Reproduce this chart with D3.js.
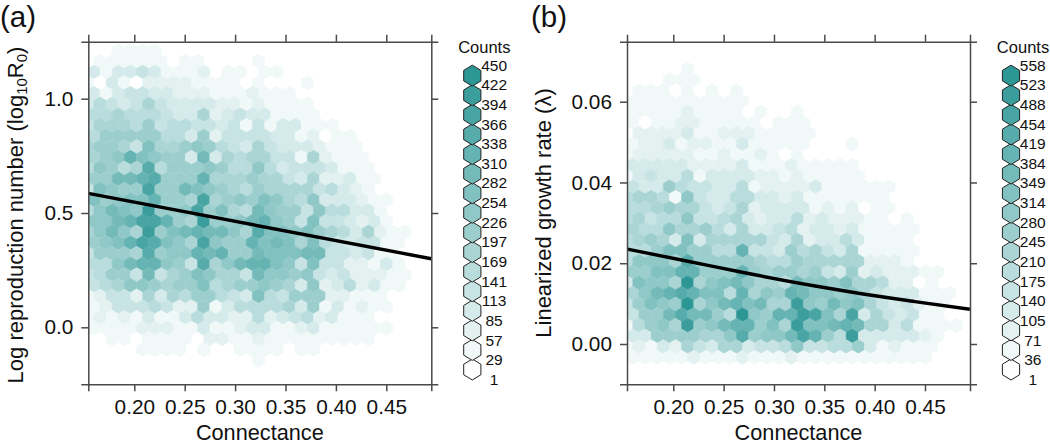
<!DOCTYPE html>
<html>
<head>
<meta charset="utf-8">
<script src="https://cdn.jsdelivr.net/npm/d3@7"></script>
<style>
  html, body { margin: 0; padding: 0; background: #fff; }
  svg { display: block; }
  text { font-family: "Liberation Sans", Arial, sans-serif; fill: #111; }
</style>
</head>
<body>
<svg id="chart" width="1050" height="445"></svg>
<script>
const connectanceTicks = [0.20, 0.25, 0.30, 0.35, 0.40, 0.45];
const logR0Ticks = [0.0, 0.5, 1.0];
const growthTicks = [0.00, 0.02, 0.04, 0.06];

const logR0Legend = [450, 422, 394, 366, 338, 310, 282, 254, 226, 197, 169, 141, 113, 85, 57, 29, 1];
const growthLegend = [558, 523, 488, 454, 419, 384, 349, 314, 280, 245, 210, 175, 140, 105, 71, 36, 1];

// fitted lines
const logR0LineX = [0.1544, 0.4946];
const logR0LineY = [0.586, 0.300];
const growthLineX = [0.1544, 0.2143, 0.2695, 0.3424, 0.3853, 0.4400, 0.4946];
const growthLineY = [0.0235, 0.0205, 0.0177, 0.0143, 0.0125, 0.0105, 0.0086];

// hexagon counts, one list per row of the lattice, top row first (0 = empty cell)
const logR0Counts = [
  [0,0,20,20,25,20],
  [0,20,25,25,25,25,20,0,20,20,0,0,0,0,20],
  [75,20,75,75,110,75,25,25,25,65,0,25,25,0,25,20],
  [20,10,75,30,1,65,50,50,50,40,20,20,20,1,25,1,0,0,20],
  [75,40,75,125,110,90,90,50,55,60,20,20,25,60,20,20,20],
  [100,135,130,100,125,185,105,90,90,90,80,60,60,30,65,30,20,20,20],
  [150,160,175,160,160,155,125,90,100,170,60,90,105,100,75,30,20,20,20],
  [130,170,175,170,150,220,110,150,155,120,110,90,105,30,120,30,75,75,20,20,20],
  [160,200,195,205,195,205,155,135,100,205,60,110,110,120,110,80,75,20,60,1,20,20],
  [170,215,210,190,130,255,165,185,205,225,200,155,125,75,180,125,80,90,90,50,20,20,20],
  [180,205,245,325,265,240,205,195,75,285,75,180,150,165,165,130,125,40,180,55,20,20,20],
  [140,235,200,160,185,360,150,205,200,215,225,195,140,155,230,140,80,110,125,105,90,25,20,20],
  [200,220,300,290,335,350,205,205,200,320,165,175,170,205,185,175,130,90,185,65,65,75,20,20],
  [105,265,250,220,205,380,220,210,285,265,245,195,165,155,220,185,175,175,170,120,160,75,65,30],
  [260,205,250,265,260,325,220,210,185,380,165,205,250,210,275,230,185,140,230,90,75,75,60,25,20],
  [155,240,310,260,230,405,210,210,240,385,210,265,165,155,290,250,220,220,130,230,155,140,90,75,20],
  [230,230,285,340,395,385,340,210,165,405,210,205,240,290,335,230,205,130,260,130,120,75,60,75,20],
  [165,250,290,240,190,430,200,265,310,325,285,300,250,165,360,275,260,240,260,210,165,155,90,165,60,20,20],
  [220,240,260,335,380,360,275,250,180,395,240,220,210,325,265,285,265,185,275,140,120,90,105,105,20,20],
  [120,205,205,220,170,370,220,230,240,325,290,335,205,205,300,275,260,265,290,285,130,120,75,120,30,20],
  [155,140,240,290,325,325,230,220,130,350,165,240,290,335,320,260,250,130,260,120,120,60,60,30,75,20],
  [130,155,195,210,110,310,120,185,205,260,250,175,165,105,300,230,250,210,240,130,90,130,60,60,50,30,20],
  [120,140,165,240,230,205,185,210,205,265,140,175,210,210,240,205,165,75,240,60,90,140,60,100,20,25],
  [30,60,130,130,50,175,75,165,140,205,195,155,105,90,265,140,130,205,220,220,60,60,30,30,25],
  [40,50,105,105,120,140,120,50,55,220,30,90,150,155,155,140,165,75,220,30,90,40,50,20,20],
  [30,60,25,60,30,90,25,30,90,140,75,75,60,60,155,60,75,130,155,50,75,30,25,20,1],
  [20,20,20,25,55,55,50,25,20,75,25,40,55,75,75,30,30,55,75,20,20,20,20,20,20],
  [0,0,20,20,0,25,25,25,25,0,50,50,20,20,50,30,30,30,25,30,20,20,20,20],
  [0,0,0,0,25,25,25,25,0,25,0,0,25,30,20,20,0,20,20],
  [0,0,0,0,0,0,0,0,0,0,0,0,0,0,20]
];

const growthCounts = [
  [0,0,0,0,0,20],
  [0,0,0,20,20,20],
  [0,20,20,20,1,20,1,20,1,20],
  [20,20,20,20,20,20,20,20,20,20],
  [20,20,20,20,20,65,25,20,20,20,1,20,0,0,20],
  [50,1,50,50,60,60,20,20,20,20,20,1,25,25,25],
  [10,60,65,60,60,110,20,25,65,60,60,25,25,25,25,25],
  [50,65,65,95,50,60,65,25,20,125,25,25,25,25,25,0,0,0,20],
  [20,80,80,80,80,80,50,50,60,50,20,65,20,1,20,1],
  [100,100,100,100,130,80,80,60,60,100,25,25,20,65,20,25,20,20,20],
  [35,100,165,110,110,195,45,95,110,115,110,70,65,35,65,25,20,20,20,20],
  [165,130,125,262,200,165,145,95,95,175,50,70,70,70,70,95,20,20,20,20,20,20],
  [170,210,210,195,50,280,145,95,115,195,185,95,95,70,110,45,25,25,25,20,20,20],
  [200,200,210,270,225,210,145,130,145,210,80,100,110,110,95,50,80,20,80,1,20,20],
  [175,230,150,190,170,285,150,150,175,205,95,75,95,95,175,75,95,60,80,75,25,20,1,20],
  [225,175,190,285,215,230,260,190,110,230,110,110,150,175,75,110,110,60,130,30,20,20,20,20],
  [190,205,260,225,95,330,110,210,230,230,215,215,150,110,205,60,125,110,175,110,50,20,20,20],
  [190,190,255,330,330,275,275,175,175,395,150,150,110,255,175,205,150,95,205,30,25,20,20,20],
  [190,285,285,310,230,445,275,255,255,275,255,240,175,175,255,205,205,205,205,205,80,60,60,30],
  [275,275,340,340,395,420,275,275,275,415,260,230,260,255,240,275,160,110,275,75,95,80,75,75,20,20],
  [110,330,285,310,220,555,230,285,320,370,300,230,205,180,360,285,285,255,330,240,205,175,75,75,1,20],
  [240,300,360,405,460,415,320,320,200,415,220,285,260,420,385,310,285,255,285,230,150,95,95,110,30,20,20],
  [160,260,340,300,275,545,240,310,385,395,320,370,230,205,530,285,275,360,310,330,240,160,110,150,60,20,20],
  [160,255,275,385,435,385,355,260,200,550,285,275,415,420,515,480,320,205,480,110,240,160,95,160,30,20],
  [37,190,255,285,220,530,275,300,385,420,415,260,320,205,525,320,330,385,415,385,230,215,110,190,30,20,20,20],
  [110,130,255,255,275,255,205,215,310,460,255,300,285,370,500,395,255,190,525,95,110,95,95,110,75,20],
  [20,60,37,110,60,205,150,95,205,205,130,160,150,175,300,150,160,190,190,275,95,37,60,50,20,37],
  [20,20,20,20,20,75,20,20,20,65,20,20,37,65,25,25,25,45,45,20,20,20,20,20,20]
];

const svg = d3.select("#chart");

const fullColor = d3.interpolateRgb("#ffffff", "#2d9796");

// draw one hexagon, pointy side up
function hexPath(cx, cy, halfWidth, radius) {
  const pts = [
    [cx, cy - radius],
    [cx + halfWidth, cy - radius / 2],
    [cx + halfWidth, cy + radius / 2],
    [cx, cy + radius],
    [cx - halfWidth, cy + radius / 2],
    [cx - halfWidth, cy - radius / 2]
  ];
  return "M" + pts.map(p => p.join(",")).join("L") + "Z";
}

function renderPanel(opt) {
  const left = opt.left, right = opt.left + 343, top = 41.7, bottom = 384.3;
  const x = d3.scaleLinear().domain([0.2, 0.45]).range([opt.x020, opt.x045]);
  const y = d3.scaleLinear().domain(opt.yRefValues).range(opt.yRefPixels);

  const levels = opt.legend.length - 2;
  const level = d3.scaleLinear().domain([0, opt.legend[0]]).range([0, levels]).clamp(true);
  const color = c => fullColor(Math.round(level(c)) / levels);

  const g = svg.append("g");

  svg.append("clipPath").attr("id", opt.id + "-clip")
    .append("rect")
    .attr("x", left).attr("y", top)
    .attr("width", right - left).attr("height", bottom - top);

  // hexagons
  const hexG = g.append("g").attr("clip-path", `url(#${opt.id}-clip)`);
  opt.counts.forEach(function (row, r) {
    row.forEach(function (count, k) {
      if (count == 0) return;
      const cx = x(opt.hexX0 + (k + (r % 2) * opt.oddShift) * opt.hexDx);
      const cy = y(opt.hexY0 - r * opt.hexDy);
      hexG.append("path")
        .attr("d", hexPath(cx, cy, 6.1, 7.05))
        .attr("fill", color(count))
        .attr("stroke", color(count))
        .attr("stroke-width", 0.5);
    });
  });

  // fitted line
  const line = d3.line()
    .x(d => x(d[0]))
    .y(d => y(d[1]))
    .curve(d3.curveMonotoneX);
  g.append("path")
    .attr("d", line(opt.lineX.map((v, i) => [v, opt.lineY[i]])))
    .attr("fill", "none")
    .attr("stroke", "#000")
    .attr("stroke-width", 3.4)
    .attr("clip-path", `url(#${opt.id}-clip)`);

  // frame and ticks on all four sides
  const xPx = d3.scaleLinear().domain([x.invert(left), x.invert(right)]).range([left, right]);
  const yPx = d3.scaleLinear().domain([y.invert(bottom), y.invert(top)]).range([bottom, top]);

  const axes = [
    [d3.axisBottom(xPx).tickValues(connectanceTicks).tickFormat(d3.format(".2f")), 0, bottom],
    [d3.axisTop(xPx).tickValues(connectanceTicks).tickFormat(""), 0, top],
    [d3.axisLeft(yPx).tickValues(opt.yTicks).tickFormat(d3.format(opt.yFormat)), left, 0],
    [d3.axisRight(yPx).tickValues(opt.yTicks).tickFormat(""), right, 0]
  ];
  axes.forEach(function (a) {
    const ax = g.append("g")
      .attr("transform", `translate(${a[1]},${a[2]})`)
      .call(a[0].tickSizeOuter(0).tickSize(7).tickPadding(8));
    ax.selectAll("path,line").attr("stroke", "#4a4a4a").attr("stroke-width", 1.5);
    ax.selectAll("text").attr("font-size", "20.8px").attr("fill", "#111");
  });

  // axis titles
  g.append("text")
    .attr("x", (left + right) / 2)
    .attr("y", 440.3)
    .attr("text-anchor", "middle")
    .attr("font-size", "21.7px")
    .text("Connectance");

  const yTitle = g.append("text")
    .attr("transform", `translate(${opt.yTitleX},${opt.yTitleY}) rotate(-90)`)
    .attr("text-anchor", "middle")
    .attr("font-size", "22px");
  opt.yTitle(yTitle);

  // panel letter
  g.append("text")
    .attr("x", opt.letterX)
    .attr("y", 27)
    .attr("font-size", "29.5px")
    .text(opt.letter);

  // legend
  g.append("text")
    .attr("x", opt.legendX + 12)
    .attr("y", 52.5)
    .attr("text-anchor", "middle")
    .attr("font-size", "16.5px")
    .text("Counts");

  const legendStep = 19.59;
  d3.range(levels + 1).forEach(function (i) {
    const cy = 369.5 - i * legendStep;
    g.append("path")
      .attr("d", hexPath(opt.legendX, cy, 8.6, 10.5))
      .attr("fill", fullColor(i / levels))
      .attr("stroke", "#222")
      .attr("stroke-width", 1);
  });
  opt.legend.forEach(function (v, i) {
    g.append("text")
      .attr("x", opt.legendX + 21.8)
      .attr("y", 65 + i * 19.64)
      .attr("dy", "0.36em")
      .attr("text-anchor", "middle")
      .attr("font-size", "15.5px")
      .text(v);
  });
}

renderPanel({
  id: "a", letter: "(a)", letterX: 0, left: 88.3,
  x020: 134.3, x045: 386.3,
  yRefValues: [0, 1], yRefPixels: [327.3, 98.7],
  yTicks: logR0Ticks, yFormat: ".1f",
  hexX0: 0.15992, hexDx: 0.0121, oddShift: -0.5, hexY0: 1.21, hexDy: 0.04667,
  counts: logR0Counts, lineX: logR0LineX, lineY: logR0LineY,
  legend: logR0Legend, legendX: 472.3,
  yTitleX: 23, yTitleY: 215,
  yTitle: function (t) {
    t.append("tspan").text("Log reproduction number (log");
    t.append("tspan").attr("dy", 4).attr("font-size", "15px").text("10");
    t.append("tspan").attr("dy", -4).text("R");
    t.append("tspan").attr("dy", 4).attr("font-size", "15px").text("0");
    t.append("tspan").attr("dy", -4).text(")");
  }
});

renderPanel({
  id: "b", letter: "(b)", letterX: 531, left: 627,
  x020: 673.3, x045: 925,
  yRefValues: [0, 0.06], yRefPixels: [344, 101.7],
  yTicks: growthTicks, yFormat: ".2f",
  hexX0: 0.15372, hexDx: 0.01211, oddShift: 0.5, hexY0: 0.0680, hexDy: 0.002641,
  counts: growthCounts, lineX: growthLineX, lineY: growthLineY,
  legend: growthLegend, legendX: 1011,
  yTitleX: 551, yTitleY: 213,
  yTitle: function (t) {
    t.text("Linearized growth rate (\u03bb)");
  }
});
</script>
</body>
</html>
